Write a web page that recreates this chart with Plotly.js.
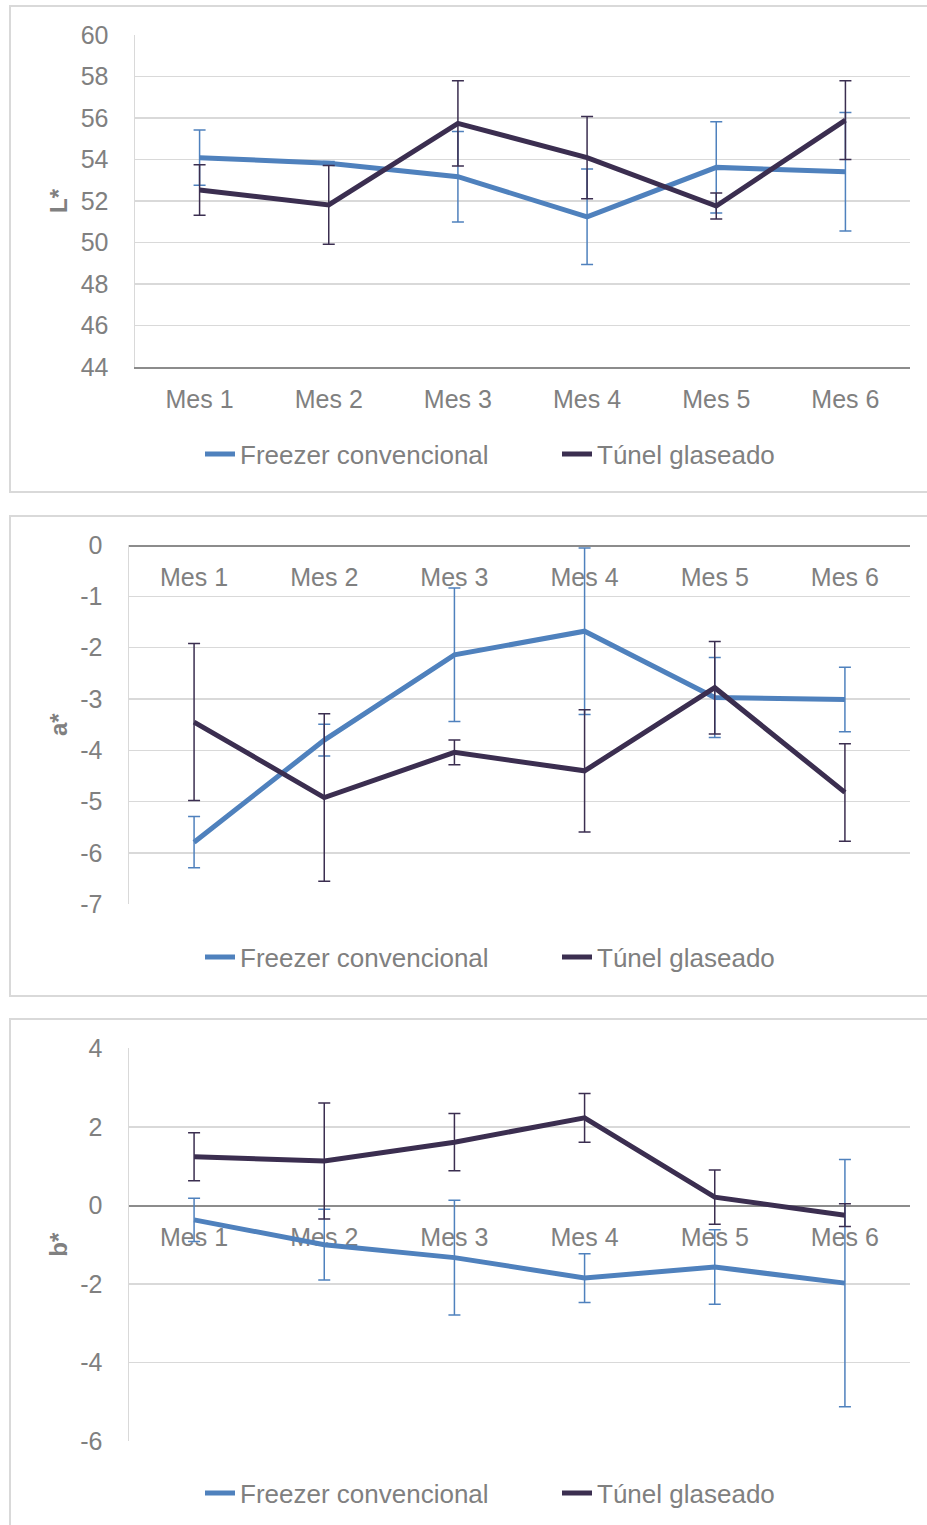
<!DOCTYPE html>
<html>
<head>
<meta charset="utf-8">
<script src="https://cdn.plot.ly/plotly-3.0.1.min.js"></script>
<style>html,body{margin:0;padding:0;background:#fff;}#chart{width:927px;height:1525px;}</style>
</head>
<body>
<div id="chart"></div>
<script>
// ---- data ----
const categories = ['Mes 1', 'Mes 2', 'Mes 3', 'Mes 4', 'Mes 5', 'Mes 6'];
const seriesNames = ['Freezer convencional', 'Túnel glaseado'];

const L_freezer = [54.09, 53.82, 53.17, 51.24, 53.62, 53.41];
const L_freezer_err = [1.33, 0.08, 2.18, 2.3, 2.2, 2.85];
const L_tunel = [52.53, 51.81, 55.74, 54.09, 51.76, 55.9];
const L_tunel_err = [1.22, 1.9, 2.05, 1.98, 0.63, 1.9];

const a_freezer = [-5.79, -3.80, -2.14, -1.68, -2.97, -3.01];
const a_freezer_err = [0.5, 0.31, 1.3, 1.62, 0.78, 0.63];
const a_tunel = [-3.45, -4.92, -4.04, -4.40, -2.78, -4.82];
const a_tunel_err = [1.53, 1.63, 0.24, 1.19, 0.9, 0.95];

const b_freezer = [-0.37, -1.0, -1.33, -1.85, -1.57, -1.98];
const b_freezer_err = [0.55, 0.9, 1.46, 0.62, 0.95, 3.15];
const b_tunel = [1.24, 1.13, 1.61, 2.23, 0.21, -0.25];
const b_tunel_err = [0.61, 1.48, 0.73, 0.62, 0.69, 0.29];

const yTitles = ['L*', 'a*', 'b*'];
const L_ticks = [44, 46, 48, 50, 52, 54, 56, 58, 60];
const a_ticks = [-7, -6, -5, -4, -3, -2, -1, 0];
const b_ticks = [-6, -4, -2, 0, 2, 4];
const yTickSets = [L_ticks, a_ticks, b_ticks];

// ---- styling ----
const W = 927, H = 1525;
const C_F = '#4f81bd';
const C_T = '#3b2e50';
const TXT = '#808080';
const GRID = '#d9d9d9';
const AXIS = '#8c8c8c';
const FONT = 'Liberation Sans, Arial, sans-serif';

const py = p => 1 - p / H;
const px = p => p / W;

const panels = [
  {f: L_freezer, fe: L_freezer_err, t: L_tunel, te: L_tunel_err, x0: 135, top: 35, bot: 367, leg: 454},
  {f: a_freezer, fe: a_freezer_err, t: a_tunel, te: a_tunel_err, x0: 129, top: 545, bot: 904.3, leg: 957},
  {f: b_freezer, fe: b_freezer_err, t: b_tunel, te: b_tunel_err, x0: 129, top: 1048.3, bot: 1441, leg: 1493}
];

const traces = [];
const layout = {
  width: W, height: H,
  margin: {l: 0, r: 0, t: 0, b: 0},
  paper_bgcolor: '#fff', plot_bgcolor: '#fff',
  font: {family: FONT, color: TXT, size: 25},
  shapes: [],
  showlegend: true
};

panels.forEach((p, i) => {
  const n = i + 1;
  const xs = n === 1 ? '' : String(n);
  const legName = n === 1 ? 'legend' : 'legend' + n;
  const common = {x: categories, mode: 'lines', xaxis: 'x' + xs, yaxis: 'y' + xs, legend: legName, hoverinfo: 'skip'};
  traces.push(Object.assign({}, common, {
    y: p.f, name: seriesNames[0], line: {color: C_F, width: 5},
    error_y: {type: 'data', array: p.fe, visible: true, color: C_F, thickness: 1.5, width: 6}
  }));
  traces.push(Object.assign({}, common, {
    y: p.t, name: seriesNames[1], line: {color: C_T, width: 5},
    error_y: {type: 'data', array: p.te, visible: true, color: C_T, thickness: 1.5, width: 6}
  }));

  const tv = yTickSets[i];
  const r = [Math.min(...tv), Math.max(...tv)];
  const yd = [py(p.bot), py(p.top)];
  const zeroFrac = (0 - r[0]) / (r[1] - r[0]);
  const xPos = n === 1 ? yd[0] : yd[0] + Math.min(1, Math.max(0, zeroFrac)) * (yd[1] - yd[0]);

  layout['xaxis' + xs] = {
    type: 'category', range: [-0.5, 5.5], domain: [px(p.x0), px(910)],
    anchor: n === 1 ? 'y' : 'free', position: xPos, side: 'bottom',
    showgrid: false, zeroline: false, showline: true, linecolor: AXIS, linewidth: 1.5,
    ticks: '', ticklabelstandoff: 9, tickfont: {size: 25, color: TXT, family: FONT},
    layer: 'below traces', fixedrange: true
  };
  layout['yaxis' + xs] = {
    range: r, tickmode: 'array', tickvals: tv, ticktext: tv.map(v => String(v)),
    domain: yd, anchor: 'x' + xs,
    showgrid: true, gridcolor: GRID, gridwidth: 1.5, zeroline: false,
    showline: true, linecolor: GRID, linewidth: 1.5, mirror: false,
    ticks: '', ticklabelstandoff: 20, tickfont: {size: 25, color: TXT, family: FONT},
    title: {text: yTitles[i], font: {size: 24, color: TXT, family: FONT, weight: 'bold'}, standoff: 6},
    fixedrange: true
  };
  layout[legName] = {
    orientation: 'h', x: px(200), xanchor: 'left', y: py(p.leg), yanchor: 'middle',
    font: {size: 26, color: TXT, family: FONT}, bgcolor: 'rgba(0,0,0,0)',
    entrywidth: 312, itemwidth: 30, tracegroupgap: 0
  };
});

// panel frames
const frames = [[6, 492], [516, 996], [1019, 1540]];
frames.forEach(f => {
  layout.shapes.push({type: 'rect', xref: 'paper', yref: 'paper',
    x0: px(10), x1: px(940), y0: py(f[1]), y1: py(f[0]),
    line: {color: GRID, width: 2}, fillcolor: 'rgba(0,0,0,0)', layer: 'below'});
});

Plotly.newPlot('chart', traces, layout, {displayModeBar: false, staticPlot: true});
</script>
</body>
</html>
